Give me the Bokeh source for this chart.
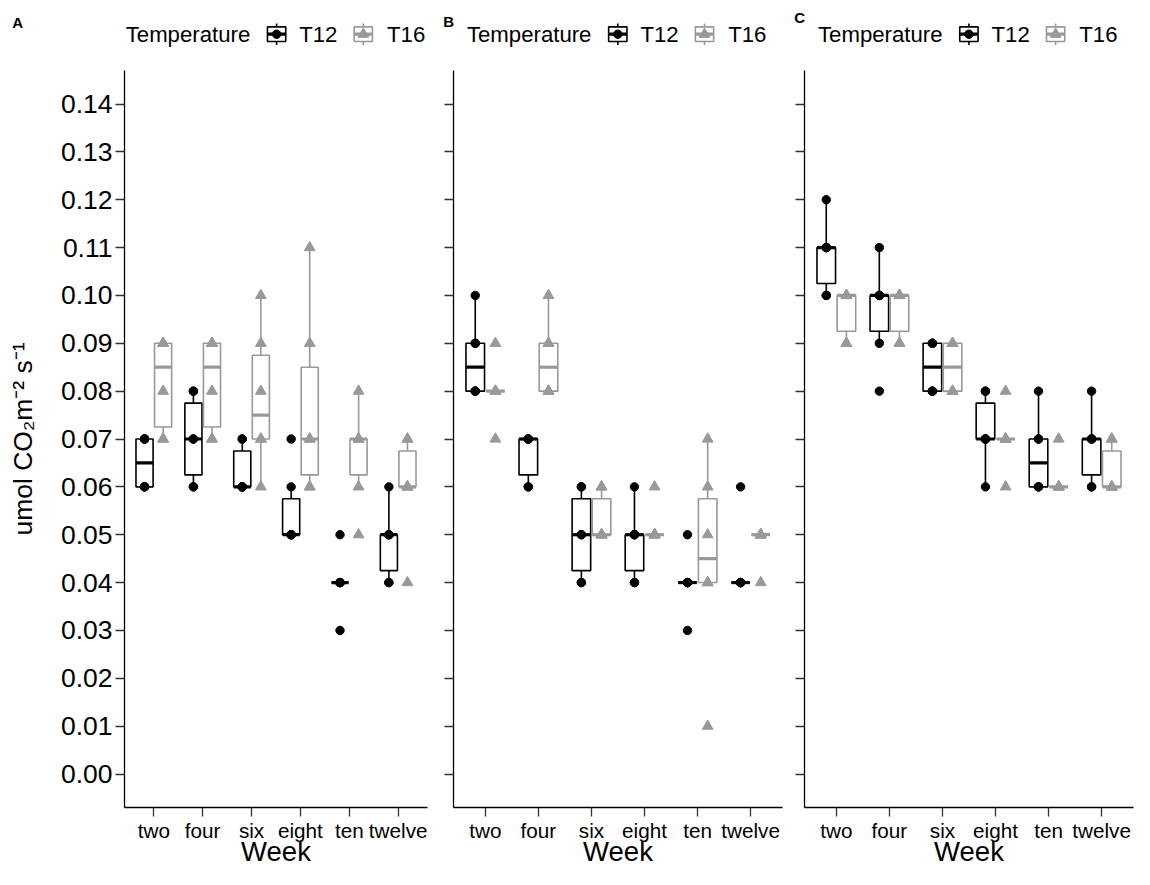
import numpy as np
from bokeh.plotting import figure
from bokeh.layouts import row, column
from bokeh.models import (Range1d, FixedTicker, ColumnDataSource, PrintfTickFormatter,
                          CustomJSTickFormatter)
from bokeh.transform import dodge
from bokeh.embed import file_html
from bokeh.resources import INLINE
from bokeh.core.properties import value

# ---------------- data ----------------
weeks = ["two", "four", "six", "eight", "ten", "twelve"]
temperatures = ["T12", "T16"]
y_ticks = [0.00, 0.01, 0.02, 0.03, 0.04, 0.05, 0.06, 0.07,
           0.08, 0.09, 0.10, 0.11, 0.12, 0.13, 0.14]

# Panel A (one list of replicates per week)
A_T12 = [[0.06, 0.06, 0.06, 0.07, 0.07, 0.07],
         [0.06, 0.06, 0.07, 0.07, 0.08, 0.08],
         [0.06, 0.06, 0.06, 0.06, 0.07, 0.07],
         [0.05, 0.05, 0.05, 0.05, 0.06, 0.07],
         [0.03, 0.04, 0.04, 0.04, 0.04, 0.05],
         [0.04, 0.04, 0.05, 0.05, 0.05, 0.06]]
A_T16 = [[0.07, 0.07, 0.08, 0.09, 0.09, 0.09],
         [0.07, 0.07, 0.08, 0.09, 0.09, 0.09],
         [0.06, 0.07, 0.07, 0.08, 0.09, 0.10],
         [0.06, 0.06, 0.07, 0.07, 0.09, 0.11],
         [0.05, 0.06, 0.07, 0.07, 0.07, 0.08],
         [0.04, 0.06, 0.06, 0.06, 0.07, 0.07]]

# Panel B
B_T12 = [[0.08, 0.08, 0.08, 0.09, 0.09, 0.10],
         [0.06, 0.06, 0.07, 0.07, 0.07, 0.07],
         [0.04, 0.04, 0.05, 0.05, 0.06, 0.06],
         [0.04, 0.04, 0.05, 0.05, 0.05, 0.06],
         [0.03, 0.04, 0.04, 0.04, 0.04, 0.05],
         [0.04, 0.04, 0.04, 0.04, 0.04, 0.06]]
B_T16 = [[0.07, 0.08, 0.08, 0.08, 0.08, 0.09],
         [0.08, 0.08, 0.08, 0.09, 0.09, 0.10],
         [0.05, 0.05, 0.05, 0.05, 0.06, 0.06],
         [0.05, 0.05, 0.05, 0.05, 0.05, 0.06],
         [0.01, 0.04, 0.04, 0.05, 0.06, 0.07],
         [0.04, 0.05, 0.05, 0.05, 0.05, 0.05]]

# Panel C
C_T12 = [[0.10, 0.10, 0.11, 0.11, 0.11, 0.12],
         [0.08, 0.09, 0.10, 0.10, 0.10, 0.11],
         [0.08, 0.08, 0.08, 0.09, 0.09, 0.09],
         [0.06, 0.07, 0.07, 0.07, 0.08, 0.08],
         [0.06, 0.06, 0.06, 0.07, 0.07, 0.08],
         [0.06, 0.06, 0.07, 0.07, 0.07, 0.08]]
C_T16 = [[0.09, 0.09, 0.10, 0.10, 0.10, 0.10],
         [0.09, 0.09, 0.10, 0.10, 0.10, 0.10],
         [0.08, 0.08, 0.08, 0.09, 0.09, 0.09],
         [0.06, 0.07, 0.07, 0.07, 0.07, 0.08],
         [0.06, 0.06, 0.06, 0.06, 0.06, 0.07],
         [0.06, 0.06, 0.06, 0.06, 0.07, 0.07]]

# ---------------- style / layout ----------------
FONT = "Liberation Sans"
COLORS = {"T12": "#000000", "T16": "#999999"}
MARKERS = {"T12": "circle", "T16": "triangle"}
SIZES = {"T12": 8.4, "T16": 10.8}
DODGE = {"T12": -0.19, "T16": 0.19}
BOX_W = 0.35
LW = 1.6
MED_LW = 3.2

TOTAL_H = 869
HEADER_H = 70
FRAME_H = 737
MAIN_H = TOTAL_H - HEADER_H
BOTTOM_B = MAIN_H - FRAME_H


def box_stats(groups):
    out = {k: [] for k in ("q1", "q2", "q3", "lo", "hi")}
    for g in groups:
        a = np.array(g, dtype=float)
        q1, q2, q3 = np.percentile(a, [25, 50, 75])
        iqr = q3 - q1
        inside = a[(a >= q1 - 1.5 * iqr - 1e-9) & (a <= q3 + 1.5 * iqr + 1e-9)]
        out["q1"].append(q1)
        out["q2"].append(q2)
        out["q3"].append(q3)
        out["lo"].append(inside.min())
        out["hi"].append(inside.max())
    return out


def make_main(data, W, bl, br, show_y):
    p = figure(width=W, height=MAIN_H, x_range=Range1d(0.4, 6.6),
               y_range=Range1d(-0.007, 0.147), output_backend="svg",
               toolbar_location=None, title=None,
               min_border_left=bl, min_border_right=br,
               min_border_top=0, min_border_bottom=BOTTOM_B)
    p.frame_align = False
    p.outline_line_color = None
    p.xgrid.visible = False
    p.ygrid.visible = False
    xpos = list(range(1, len(weeks) + 1))
    for t in temperatures:
        st = box_stats(data[t])
        c = COLORS[t]
        off = DODGE[t]
        src = ColumnDataSource(dict(x=xpos, **st))
        p.segment(x0=dodge("x", off), y0="q3", x1=dodge("x", off), y1="hi",
                  source=src, line_color=c, line_width=LW)
        p.segment(x0=dodge("x", off), y0="q1", x1=dodge("x", off), y1="lo",
                  source=src, line_color=c, line_width=LW)
        p.vbar(x=dodge("x", off), width=BOX_W, top="q3", bottom="q1", source=src,
               fill_color="white", line_color=c, line_width=LW)
        p.segment(x0=dodge("x", off - BOX_W / 2), y0="q2",
                  x1=dodge("x", off + BOX_W / 2), y1="q2",
                  source=src, line_color=c, line_width=MED_LW)
    for t in temperatures:
        c = COLORS[t]
        px = [i + 1 for i, g in enumerate(data[t]) for _ in g]
        py = [v for g in data[t] for v in g]
        p.scatter(x=dodge("x", DODGE[t]), y="y",
                  source=ColumnDataSource(dict(x=px, y=py)),
                  marker=MARKERS[t], size=SIZES[t], fill_color=c, line_color=c)

    for ax in (p.xaxis[0], p.yaxis[0]):
        ax.axis_line_color = "black"
        ax.axis_line_width = 1.3
        ax.major_tick_line_color = "#333333"
        ax.major_tick_line_width = 1.3
        ax.major_tick_out = 9
        ax.major_tick_in = 0
        ax.minor_tick_out = 0
        ax.minor_tick_in = 0
        ax.major_label_text_font = FONT
        ax.major_label_text_color = "black"
        ax.axis_label_text_font = FONT
        ax.axis_label_text_font_style = "normal"
        ax.axis_label_text_color = "black"
    p.xaxis.ticker = FixedTicker(ticks=xpos)
    p.xaxis.major_label_overrides = {i + 1: w for i, w in enumerate(weeks)}
    p.xaxis.major_label_text_font_size = "20.7px"
    p.xaxis.major_label_standoff = 2
    p.xaxis.axis_label = "Week"
    p.xaxis.axis_label_text_font_size = "27.5px"
    p.xaxis.axis_label_standoff = -9
    p.yaxis.ticker = FixedTicker(ticks=y_ticks)
    if show_y:
        p.yaxis.formatter = PrintfTickFormatter(format="%.2f")
        p.yaxis.major_label_text_font_size = "26.5px"
        p.yaxis.major_label_standoff = 3
        p.yaxis.axis_label = "umol CO\u2082m\u207b\u00b2 s\u207b\u00b9"
        p.yaxis.axis_label_text_font_size = "26.5px"
        p.yaxis.axis_label_standoff = 20
    else:
        p.yaxis.formatter = CustomJSTickFormatter(code="return ''")
        p.yaxis.major_label_standoff = 0
    return p


def blank_fig(W, H):
    f = figure(width=W, height=H, x_range=Range1d(0, W),
               y_range=Range1d(H, 0), output_backend="svg",
               toolbar_location=None, title=None,
               x_axis_location=None, y_axis_location=None, min_border=0)
    f.frame_align = False
    f.grid.visible = False
    f.outline_line_color = None
    return f


def make_header(W, letter, lx, ly, tx):
    h = blank_fig(W, HEADER_H)
    h.text(x=[lx], y=[ly], text=[letter], text_font=value(FONT),
           text_font_size="15px", text_font_style="bold",
           text_baseline="middle", text_align="left", text_color="black")
    ty = 34.4
    cy = 33.7
    h.text(x=[tx], y=[ty], text=["Temperature"], text_font=value(FONT),
           text_font_size="22.2px", text_baseline="middle",
           text_align="left", text_color="black")
    for t, koff, loff in (("T12", 150.9, 173.5), ("T16", 237.6, 261.3)):
        c = COLORS[t]
        cx = tx + koff
        h.segment(x0=[cx], y0=[cy - 10.8], x1=[cx], y1=[cy + 10.8], line_color=c, line_width=LW)
        h.rect(x=[cx], y=[cy], width=18.3, height=14.7, fill_color="white",
               line_color=c, line_width=LW)
        h.segment(x0=[cx - 9.15], y0=[cy], x1=[cx + 9.15], y1=[cy], line_color=c, line_width=MED_LW)
        h.scatter(x=[cx], y=[cy], marker=MARKERS[t], size=SIZES[t], fill_color=c, line_color=c)
        h.text(x=[tx + loff], y=[ty], text=[t], text_font=value(FONT),
               text_font_size="22.2px", text_baseline="middle",
               text_align="left", text_color="black")
    return h


panels = [
    # data, width, border_left, border_right, show y labels, letter, letter x, letter y, legend x
    (dict(T12=A_T12, T16=A_T16), 434, 124, 7, True, "A", 11.8, 22.4, 125.2),
    (dict(T12=B_T12, T16=B_T16), 355, 19, 7, False, "B", 8.7, 21.0, 32.4),
    (dict(T12=C_T12, T16=C_T16), 345, 15, 1, False, "C", 4.8, 16.8, 28.5),
]

cols = []
for data, W, bl, br, show_y, letter, lx, ly, tx in panels:
    hdr = make_header(W, letter, lx, ly, tx)
    main = make_main(data, W, bl, br, show_y)
    cols.append(column(hdr, main, spacing=0))

layout = row(*cols, spacing=0)

open("out.html", "w").write(file_html(layout, INLINE))
